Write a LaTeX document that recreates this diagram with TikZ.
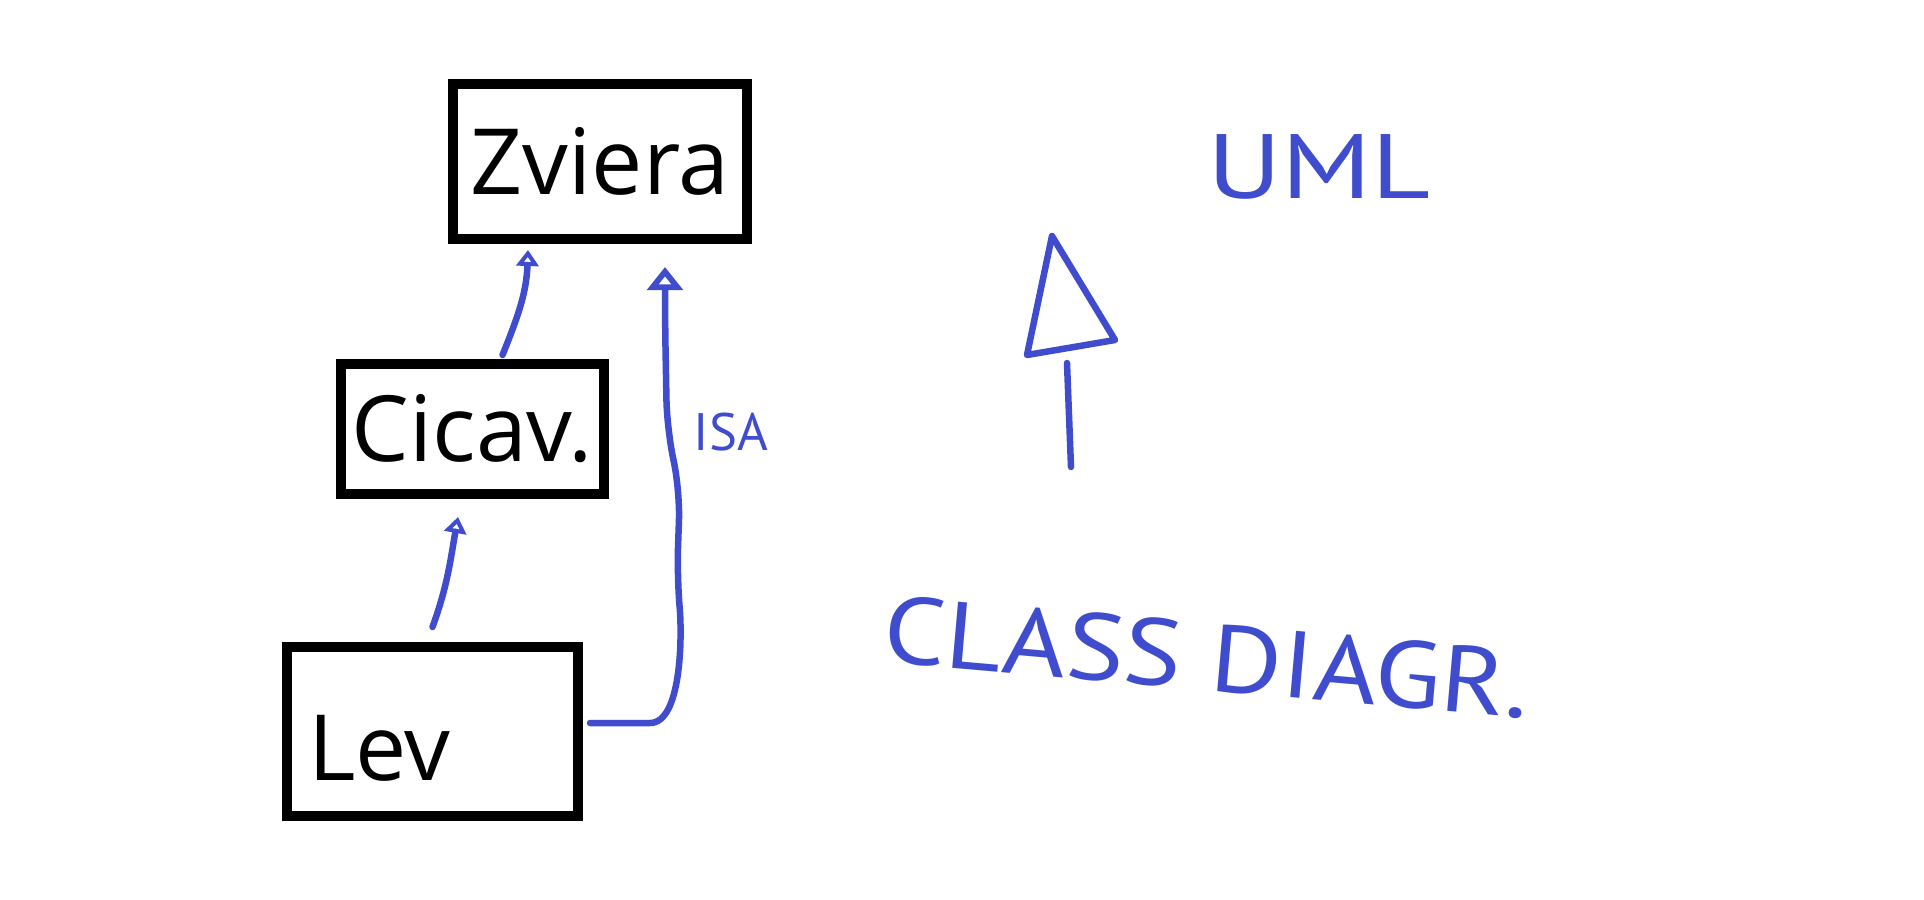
\documentclass[tikz,border=0pt]{standalone}
\usepackage{fontspec}
\setmainfont{Open Sans}
\newfontfamily\handfont{PT Sans}
\usetikzlibrary{arrows.meta}
\definecolor{pen}{RGB}{64,76,206}
\tikzset{
  classbox/.style = {draw, line width=0.1cm, inner sep=0pt, font=\fontsize{26}{26}\selectfont},
  hand/.style = {draw=pen, line width=0.065cm, line cap=round, line join=round},
  gen/.style = {hand, -{Triangle[open, length=0.16cm, width=0.22cm]}},
  handtext/.style = {text=pen, font=\handfont, inner sep=0pt}
}
\begin{document}
\begin{tikzpicture}
 \useasboundingbox (0,0) rectangle (19.24,-9);
 % classes
 \node[classbox, minimum width=2.94cm, minimum height=1.55cm] (zviera) at (6.00,-1.615) {Zviera};
 \node[classbox, minimum width=2.63cm, minimum height=1.30cm] (cicav) at (4.725,-4.29) {Cicav.};
 \node[classbox, minimum width=2.91cm, minimum height=1.69cm, text width=2.49cm, align=left,
    text height=0.97cm, text depth=0cm] (lev) at (4.325,-7.315) {Lev};
 % generalisations
 \draw[gen] ([xshift=0.3cm,yshift=0.04cm]cicav.north) to[out=68,in=-92]
    ([xshift=-0.72cm,yshift=-0.06cm]zviera.south);
 \draw[gen] ([yshift=0.15cm]lev.north) to[out=70,in=-100]
    ([xshift=-0.145cm,yshift=-0.18cm]cicav.south);
 \draw[hand, -{Triangle[open, length=0.23cm, width=0.35cm]}, rounded corners=0.3cm]
    ([xshift=0.18cm,yshift=0.085cm]lev.east) -- ++(0.19,0) to[out=0,in=-85] ++(0.57,1.46)
    -- ++(0.03,0.87) -- ++(-0.13,0.60) -- ++(-0.02,1.11)
    -- ([xshift=0.65cm,yshift=-0.23cm]zviera.south);
 \node[handtext, font=\handfont\fontsize{15}{15}\selectfont] (isa) at (7.31,-4.32) {ISA};
 % legend
 \draw[hand] (10.52,-2.36) -- (10.27,-3.55) -- (11.15,-3.40) -- cycle;
 \draw[hand] (10.71,-4.67) -- (10.67,-3.63);
 \node[handtext, font=\handfont\fontsize{26}{26}\selectfont, xscale=1.25, transform shape] (uml) at (13.19,-1.67) {UML};
 \node[handtext, font=\handfont\fontsize{27}{27}\selectfont, rotate=-5, xscale=1.15, transform shape] (title) at (12.07,-6.57) {CLASS DIAGR.};
\end{tikzpicture}
\end{document}
